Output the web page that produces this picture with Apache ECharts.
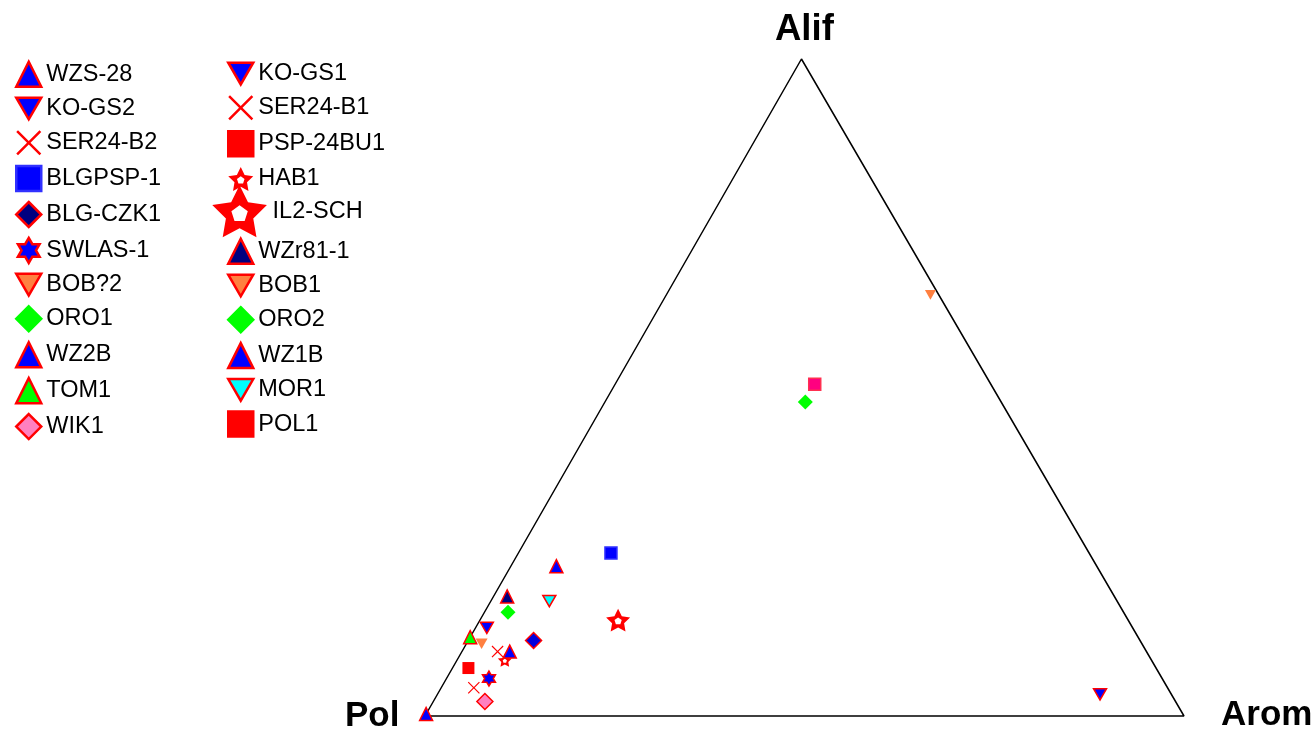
<!DOCTYPE html>
<html>
<head>
<meta charset="utf-8">
<title>Ternary plot</title>
<script src="https://cdn.jsdelivr.net/npm/echarts@6/dist/echarts.min.js"></script>
<style>
  html, body { margin: 0; padding: 0; background: #ffffff; }
  #ternary { width: 1314px; height: 731px; }
</style>
</head>
<body>
<div id="ternary"></div>
<script>
// sample names, legend order (row by row: left column, right column)
var names = ['WZS-28', 'KO-GS1', 'KO-GS2', 'SER24-B1', 'SER24-B2', 'PSP-24BU1',
  'BLGPSP-1', 'HAB1', 'BLG-CZK1', 'IL2-SCH', 'SWLAS-1', 'WZr81-1',
  'BOB?2', 'BOB1', 'ORO1', 'ORO2', 'WZ2B', 'WZ1B', 'TOM1', 'MOR1', 'WIK1', 'POL1'];

// composition in %
var pol  = [71.2, 85.1,  9.4, 85.5, 91.4, 23.2, 63.0, 85.2, 79.9, 67.2, 88.7, 80.0,
            87.0,  1.1, 81.1, 25.8, 83.9, 99.7, 88.0, 74.8, 91.0, 90.6];
var arom = [ 6.0,  1.5, 87.3,  4.7,  4.3, 26.3, 12.2,  6.3,  8.6, 18.2,  5.6,  1.8,
             2.0, 34.8,  3.1, 26.4,  6.3,  0.0,  0.0,  7.7,  6.8,  2.1];
var alif = [22.8, 13.4,  3.3,  9.8,  4.3, 50.5, 24.8,  8.5, 11.5, 14.6,  5.7, 18.2,
            11.0, 64.1, 15.8, 47.8,  9.8,  0.3, 12.0, 17.5,  2.2,  7.3];

var cornerLabels = ['Pol', 'Arom', 'Alif'];

var H = Math.sqrt(3) / 2;
var APEX = 0.496;   // the top corner sits a bit left of the middle in the original

// symbols
var downTri = 'path://M0,0L100,0L50,86.6Z';
var cross = 'path://M0,7L7,0L50,43L93,0L100,7L57,50L100,93L93,100L50,57L7,100L0,93L43,50Z';
var star = 'path://M50,0L64.69,29.78L97.55,34.55L73.78,57.73L79.39,90.45L50,75L20.61,90.45L26.22,57.73L2.45,34.55L35.31,29.78Z' +
  'M50,35L35.73,45.36L41.18,62.14L58.82,62.14L64.27,45.36Z';
var hexa = 'path://M50,0L64.43,25L93.3,25L78.87,50L93.3,75L64.43,75L50,100L35.57,75L6.7,75L21.13,50L6.7,25L35.57,25Z';

var RED = '#ff0000', BLUE = '#0000ff', NAVY = '#000080', ORANGE = '#ff8040',
    GREEN = '#00ff00', CYAN = '#00ffff', PINK = '#ff80c0', NONE = 'rgba(0,0,0,0)';

var looks = {
  'WZS-28':    { symbol: 'triangle', size: 13, color: BLUE, border: RED },
  'KO-GS1':    { symbol: downTri, size: 13, color: BLUE, border: RED },
  'KO-GS2':    { symbol: downTri, size: 13, color: BLUE, border: RED },
  'SER24-B1':  { symbol: cross, size: 12, color: RED, border: NONE, bw: 0 },
  'SER24-B2':  { symbol: cross, size: 12, color: RED, border: NONE, bw: 0 },
  'PSP-24BU1': { symbol: 'rect', size: 12, color: '#ff0080', border: '#ff3050' },
  'BLGPSP-1':  { symbol: 'rect', size: 12, color: BLUE, border: '#3030ff' },
  'HAB1':      { symbol: star, size: 14, color: RED, border: NONE, bw: 0 },
  'BLG-CZK1':  { symbol: 'diamond', size: 16, color: '#0000dd', border: RED },
  'IL2-SCH':   { symbol: star, size: 24, color: RED, border: NONE, bw: 0 },
  'SWLAS-1':   { symbol: hexa, size: 15, color: BLUE, border: RED },
  'WZr81-1':   { symbol: 'triangle', size: 13, color: NAVY, border: RED },
  'BOB?2':     { symbol: downTri, size: 12, color: ORANGE, border: RED, bw: 0 },
  'BOB1':      { symbol: downTri, size: 11, color: ORANGE, border: RED, bw: 0 },
  'ORO1':      { symbol: 'diamond', size: 15, color: GREEN, border: GREEN, bw: 0 },
  'ORO2':      { symbol: 'diamond', size: 15, color: GREEN, border: GREEN, bw: 0 },
  'WZ2B':      { symbol: 'triangle', size: 13, color: BLUE, border: RED },
  'WZ1B':      { symbol: 'triangle', size: 13, color: BLUE, border: RED },
  'TOM1':      { symbol: 'triangle', size: 13, color: GREEN, border: RED },
  'MOR1':      { symbol: downTri, size: 13, color: CYAN, border: RED },
  'WIK1':      { symbol: 'diamond', size: 16, color: PINK, border: RED },
  'POL1':      { symbol: 'rect', size: 12, color: RED, border: RED, bw: 0 }
};

function toXY(i) {
  var s = pol[i] + arom[i] + alif[i];
  var b = arom[i] / s, c = alif[i] / s;
  return [b + c * APEX, c * H];
}

var series = [{
  type: 'line',
  name: 'frame',
  data: [[0, 0], [1, 0], [APEX, H], [0, 0]],
  symbol: 'none',
  silent: true,
  clip: false,
  z: 1,
  lineStyle: { color: '#000000', width: 1.5 }
}];

names.forEach(function (n, i) {
  var lk = looks[n];
  series.push({
    type: 'scatter',
    name: n,
    data: [toXY(i)],
    symbol: lk.symbol,
    symbolSize: lk.size,
    symbolKeepAspect: true,
    clip: false,
    z: 3,
    itemStyle: {
      color: lk.color,
      borderColor: lk.border,
      borderWidth: lk.bw === undefined ? 1.5 : lk.bw,
      opacity: 1
    }
  });
});

var legendBase = {
  orient: 'vertical',
  padding: 0,
  itemWidth: 25,
  itemHeight: 25,
  itemGap: 8.4,
  selectedMode: false,
  itemStyle: { borderWidth: 2.5 },
  textStyle: { fontFamily: 'Liberation Sans, Arial', fontSize: 23.5, color: '#000000' }
};
function legendAt(left, top, list, extra) {
  return Object.assign({}, legendBase, { left: left, top: top, data: list }, extra || {});
}

var labelFont = 'bold 35px "Liberation Sans", Arial, sans-serif';

var chart = echarts.init(document.getElementById('ternary'));
chart.setOption({
  animation: false,
  backgroundColor: '#ffffff',
  grid: { left: 425, right: 130, top: 59, bottom: 15 },
  xAxis: { type: 'value', min: 0, max: 1, show: false },
  yAxis: { type: 'value', min: 0, max: H, show: false },
  legend: [
    legendAt(15, 60.5, ['WZS-28', 'KO-GS2', 'SER24-B2', 'BLGPSP-1',
      { name: 'BLG-CZK1', itemStyle: { color: NAVY } }, 'SWLAS-1',
      'BOB?2', 'ORO1', 'WZ2B', 'TOM1', 'WIK1']),
    legendAt(227, 61.5, ['KO-GS1', 'SER24-B1',
      { name: 'PSP-24BU1', itemStyle: { color: RED, borderColor: RED } }, 'HAB1']),
    legendAt(211, 184, ['IL2-SCH'], { itemWidth: 56, itemHeight: 52 }),
    legendAt(227, 237.5, ['WZr81-1', 'BOB1', 'ORO2', 'WZ1B', 'MOR1', 'POL1'])
  ],
  graphic: [
    { type: 'text', left: 345, top: 699, style: { text: cornerLabels[0], font: labelFont, fill: '#000' } },
    { type: 'text', left: 1221, top: 698, style: { text: cornerLabels[1], font: labelFont, fill: '#000' } },
    { type: 'text', left: 775, top: 11, style: { text: cornerLabels[2], font: 'bold 36.5px "Liberation Sans", Arial, sans-serif', fill: '#000' } }
  ],
  series: series
});
</script>
</body>
</html>
